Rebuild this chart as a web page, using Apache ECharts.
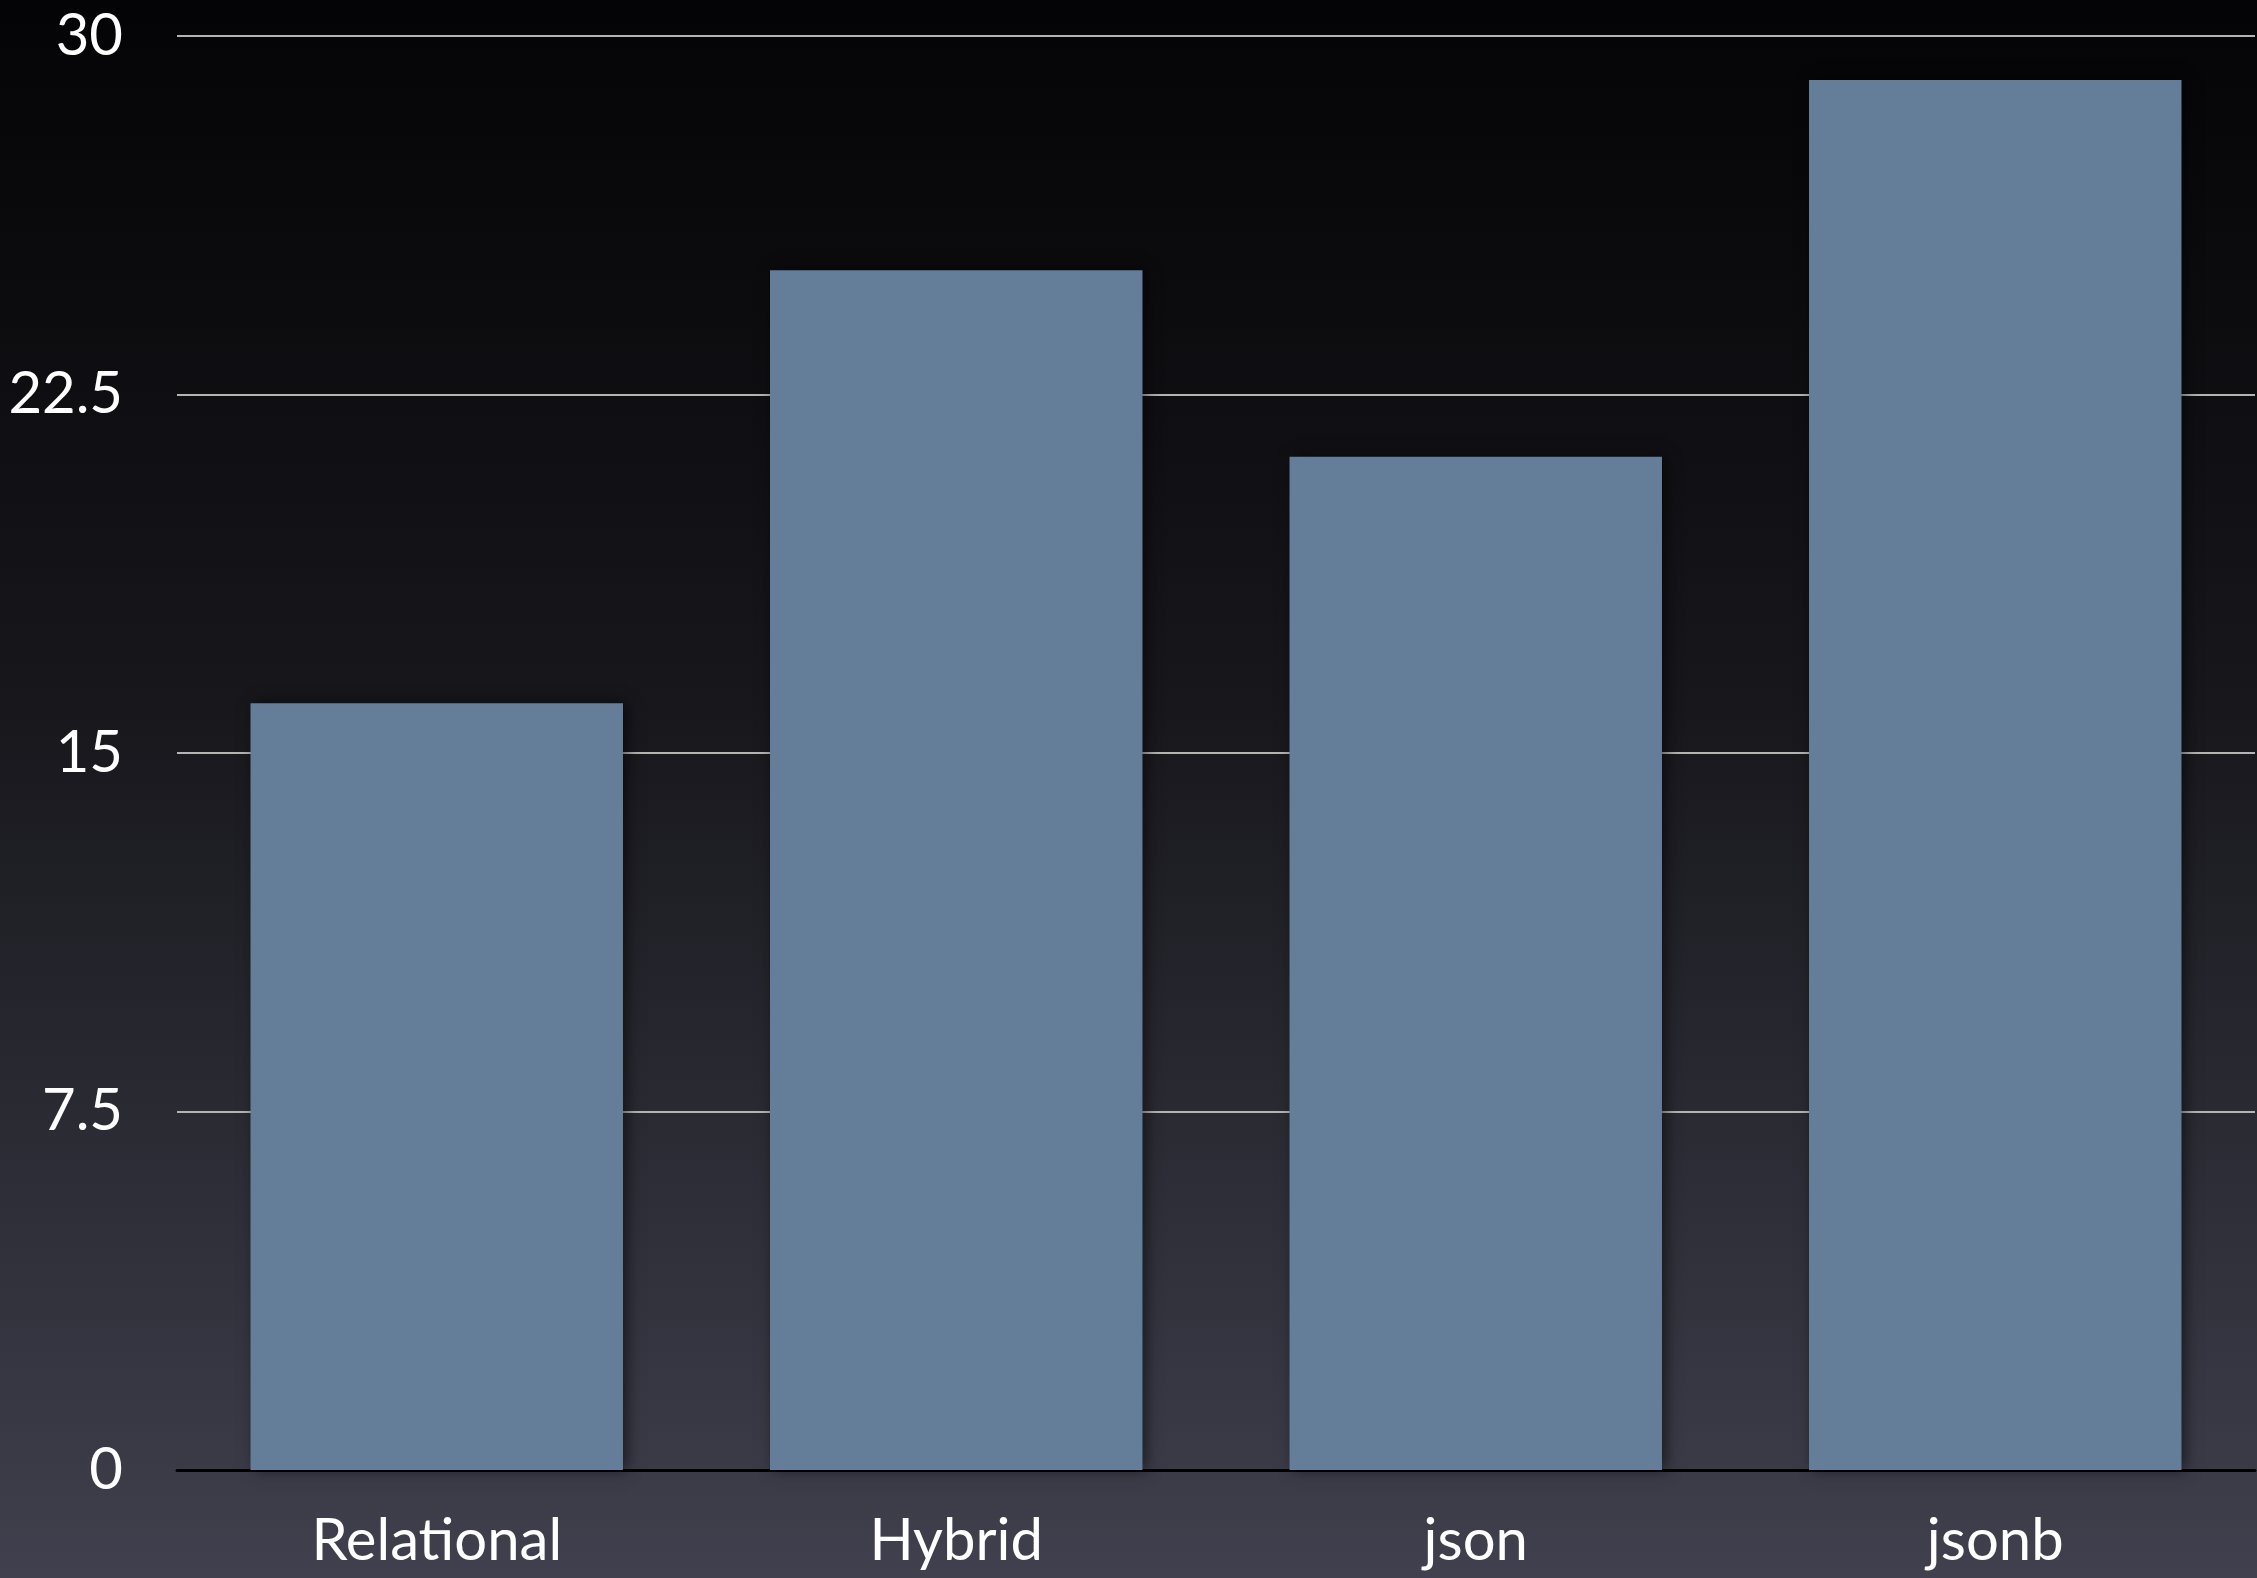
<!DOCTYPE html>
<html><head><meta charset="utf-8">
<script src="https://cdn.jsdelivr.net/npm/echarts@6/dist/echarts.min.js"></script>
<style>html,body{margin:0;padding:0;}#c{width:2257px;height:1578px;}</style>
</head><body><div id="c"></div>
<script>
const categories = ['Relational', 'Hybrid', 'json', 'jsonb'];
const values = [16.04, 25.1, 21.2, 29.08];
const yTicks = [0, 7.5, 15, 22.5, 30];

const chart = echarts.init(document.getElementById('c'), null, {renderer: 'canvas'});
chart.setOption({
  backgroundColor: new echarts.graphic.LinearGradient(0, 0, 0, 1, [
    {offset: 0, color: '#040406'},
    {offset: 0.45, color: '#17171c'},
    {offset: 1, color: '#40404e'}
  ]),
  animation: false,
  grid: {left: 177, right: 2, top: 36, bottom: 108, containLabel: false},
  xAxis: {
    type: 'category',
    data: categories,
    axisLine: {show: true, lineStyle: {color: '#000000', width: 3}},
    axisTick: {show: false},
    axisLabel: {color: '#ffffff', fontFamily: 'Lato', fontSize: 58, margin: 42}
  },
  yAxis: {
    type: 'value',
    min: 0, max: 30, interval: 7.5,
    axisLine: {show: false},
    axisTick: {show: false},
    splitLine: {lineStyle: {color: '#b4b4b4', width: 2}},
    axisLabel: {color: '#ffffff', fontFamily: 'Lato', fontSize: 58, margin: 54,
      formatter: v => yTicks.includes(v) ? String(v) : ''}
  },
  series: [{
    type: 'bar',
    data: values,
    barCategoryGap: '28.3%',
    itemStyle: {
      color: '#647e99',
      shadowColor: 'rgba(0,0,0,0.55)',
      shadowBlur: 14,
      shadowOffsetX: 4,
      shadowOffsetY: 0
    }
  }]
});
</script></body></html>
